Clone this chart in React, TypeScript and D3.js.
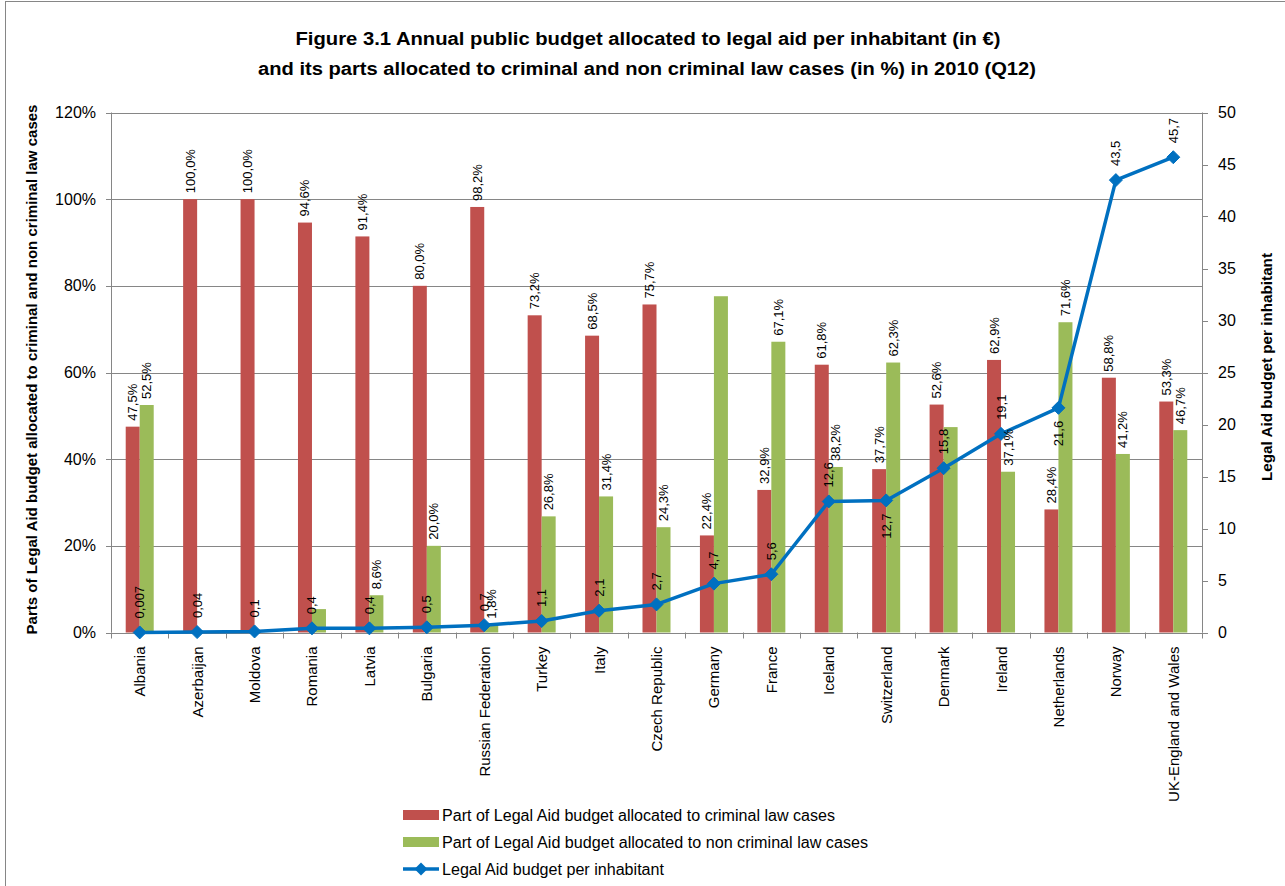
import React from "react";
import * as d3 from "d3";

const categories = [
  "Albania", "Azerbaijan", "Moldova", "Romania", "Latvia", "Bulgaria",
  "Russian Federation", "Turkey", "Italy", "Czech Republic", "Germany",
  "France", "Iceland", "Switzerland", "Denmark", "Ireland", "Netherlands",
  "Norway", "UK-England and Wales",
];

const criminal = [47.5, 100, 100, 94.6, 91.4, 80.0, 98.2, 73.2, 68.5, 75.7, 22.4, 32.9, 61.8, 37.7, 52.6, 62.9, 28.4, 58.8, 53.3];
const nonCriminal = [52.5, 0, 0, 5.4, 8.6, 20.0, 1.8, 26.8, 31.4, 24.3, 77.6, 67.1, 38.2, 62.3, 47.4, 37.1, 71.6, 41.2, 46.7];
// which non-criminal bars carry a data label in the reference
const nonCriminalLabelShown = [true, false, false, false, true, true, true, true, true, true, false, true, true, true, false, true, true, true, true];
const perInhabitant = [0.007, 0.04, 0.1, 0.4, 0.4, 0.5, 0.7, 1.1, 2.1, 2.7, 4.7, 5.6, 12.6, 12.7, 15.8, 19.1, 21.6, 43.5, 45.7];
const perInhabitantLabels = ["0,007", "0,04", "0,1", "0,4", "0,4", "0,5", "0,7", "1,1", "2,1", "2,7", "4,7", "5,6", "12,6", "12,7", "15,8", "19,1", "21,6", "43,5", "45,7"];
// label placement for line points: true = below the point
const lineLabelBelow = [false, false, false, false, false, false, false, false, false, false, false, false, false, true, false, false, true, false, false];

const leftTicks = [0, 20, 40, 60, 80, 100, 120];
const rightTicks = [0, 5, 10, 15, 20, 25, 30, 35, 40, 45, 50];

const seriesNames = [
  "Part of Legal Aid budget allocated to criminal law cases",
  "Part of Legal Aid budget allocated to non criminal law cases",
  "Legal Aid budget per inhabitant",
];

const RED = "#C0504D";
const GREEN = "#9BBB59";
const BLUE = "#0070C0";
const AXIS = "#868686";
const FONT = "'Liberation Sans', Arial, sans-serif";

const fmtPct = (v: number) => v.toFixed(1).replace(".", ",") + "%";

export default function App() {
  const W = 1285, H = 886;
  const left = 111, right = 1202, top = 112.5, bottom = 632.5;

  const x = d3.scaleBand<string>().domain(categories).range([left, right]).padding(0);
  const yL = d3.scaleLinear().domain([0, 120]).range([bottom, top]);
  const yR = d3.scaleLinear().domain([0, 50]).range([bottom, top]);
  const barW = 14;
  const cx = (i: number) => (x(categories[i]) as number) + x.bandwidth() / 2;

  const linePath = d3.line<number>()
    .x((_, i) => cx(i))
    .y((d) => yR(d))(perInhabitant) as string;

  const diamond = (px: number, py: number, r: number) =>
    `M${px},${py - r}L${px + r},${py}L${px},${py + r}L${px - r},${py}Z`;

  const bounds = x.domain().map((c) => x(c) as number).concat([right]);

  return (
    <svg width={W} height={H} style={{ position: "absolute", left: 0, top: 0, background: "#fff" }} fontFamily={FONT}>
      <rect x={5.5} y={1.5} width={1400} height={1000} fill="#fff" stroke={AXIS} strokeWidth={1} />

      {/* Title */}
      <text x={648} y={45} textAnchor="middle" fontWeight="bold" fontSize={18} textLength={705} lengthAdjust="spacingAndGlyphs" fill="#000">
        Figure 3.1 Annual  public budget allocated to legal aid per inhabitant  (in €)
      </text>
      <text x={647} y={75} textAnchor="middle" fontWeight="bold" fontSize={18} textLength={778} lengthAdjust="spacingAndGlyphs" fill="#000">
        and its parts allocated to criminal and non criminal law cases (in %) in 2010 (Q12)
      </text>

      {/* gridlines */}
      {leftTicks.map((t) => (
        <line key={"g" + t} x1={left} x2={right} y1={Math.round(yL(t)) + 0.5} y2={Math.round(yL(t)) + 0.5} stroke={AXIS} strokeWidth={1} />
      ))}

      {/* bars */}
      {criminal.map((v, i) => (
        <rect key={"r" + i} x={cx(i) - barW} y={yL(v)} width={barW} height={yL(0) - yL(v)} fill={RED} />
      ))}
      {nonCriminal.map((v, i) => v > 0 ? (
        <rect key={"n" + i} x={cx(i)} y={yL(v)} width={barW} height={yL(0) - yL(v)} fill={GREEN} />
      ) : null)}

      {/* axes */}
      <line x1={left + 0.5} x2={left + 0.5} y1={top} y2={bottom} stroke={AXIS} />
      <line x1={right + 0.5} x2={right + 0.5} y1={top} y2={bottom} stroke={AXIS} />
      <line x1={left} x2={right} y1={Math.round(bottom) + 0.5} y2={Math.round(bottom) + 0.5} stroke={AXIS} />
      {leftTicks.map((t) => (
        <g key={"lt" + t}>
          <line x1={left - 5} x2={left} y1={Math.round(yL(t)) + 0.5} y2={Math.round(yL(t)) + 0.5} stroke={AXIS} />
          <text x={96} y={yL(t)} textAnchor="end" dominantBaseline="central" fontSize={16} fill="#000">{t + "%"}</text>
        </g>
      ))}
      {rightTicks.map((t) => (
        <g key={"rt" + t}>
          <line x1={right} x2={right + 6} y1={Math.round(yR(t)) + 0.5} y2={Math.round(yR(t)) + 0.5} stroke={AXIS} />
          <text x={1218} y={yR(t)} textAnchor="start" dominantBaseline="central" fontSize={16} fill="#000">{t}</text>
        </g>
      ))}
      {bounds.map((b, i) => (
        <line key={"xt" + i} x1={Math.round(b) + 0.5} x2={Math.round(b) + 0.5} y1={bottom} y2={bottom + 6} stroke={AXIS} />
      ))}
      {categories.map((c, i) => (
        <text key={"c" + i} transform={`translate(${cx(i)},${bottom + 14}) rotate(-90)`} textAnchor="end" dominantBaseline="central" fontSize={15} fill="#000">{c}</text>
      ))}

      {/* axis titles */}
      <text transform={`translate(31,${(top + bottom) / 2 - 3}) rotate(-90)`} textAnchor="middle" dominantBaseline="central" fontWeight="bold" fontSize={15} textLength={530} lengthAdjust="spacingAndGlyphs" fill="#000">
        Parts of Legal Aid budget allocated to criminal and non criminal law cases
      </text>
      <text transform={`translate(1266,367) rotate(-90)`} textAnchor="middle" dominantBaseline="central" fontWeight="bold" fontSize={15} textLength={228} lengthAdjust="spacingAndGlyphs" fill="#000">
        Legal Aid budget per inhabitant
      </text>

      {/* line */}
      <path d={linePath} fill="none" stroke={BLUE} strokeWidth={3.5} strokeLinejoin="round" />
      {perInhabitant.map((v, i) => (
        <path key={"m" + i} d={diamond(cx(i), yR(v), 6.5)} fill={BLUE} stroke={BLUE} strokeWidth={1} />
      ))}

      {/* bar labels */}
      {criminal.map((v, i) => (
        <text key={"rl" + i} transform={`translate(${cx(i) - barW / 2},${yL(v) - 6}) rotate(-90)`} textAnchor="start" dominantBaseline="central" fontSize={13} fill="#000">{fmtPct(v)}</text>
      ))}
      {nonCriminal.map((v, i) => nonCriminalLabelShown[i] ? (
        <text key={"nl" + i} transform={`translate(${cx(i) + barW / 2},${yL(v) - 6}) rotate(-90)`} textAnchor="start" dominantBaseline="central" fontSize={13} fill="#000">{fmtPct(v)}</text>
      ) : null)}

      {/* line labels */}
      {perInhabitant.map((v, i) => lineLabelBelow[i] ? (
        <text key={"ll" + i} transform={`translate(${cx(i)},${yR(v) + 13}) rotate(-90)`} textAnchor="end" dominantBaseline="central" fontSize={13} fill="#000">{perInhabitantLabels[i]}</text>
      ) : (
        <text key={"ll" + i} transform={`translate(${cx(i)},${yR(v) - 14}) rotate(-90)`} textAnchor="start" dominantBaseline="central" fontSize={13} fill="#000">{perInhabitantLabels[i]}</text>
      ))}

      {/* legend */}
      <rect x={403} y={810} width={36} height={10} fill={RED} />
      <text x={442} y={815} dominantBaseline="central" fontSize={16} textLength={393} lengthAdjust="spacingAndGlyphs" fill="#000">{seriesNames[0]}</text>
      <rect x={403} y={837} width={36} height={10} fill={GREEN} />
      <text x={442} y={842} dominantBaseline="central" fontSize={16} textLength={426} lengthAdjust="spacingAndGlyphs" fill="#000">{seriesNames[1]}</text>
      <line x1={403} x2={439} y1={869} y2={869} stroke={BLUE} strokeWidth={3.5} />
      <path d={diamond(421, 869, 6.5)} fill={BLUE} />
      <text x={442} y={869} dominantBaseline="central" fontSize={16} textLength={222} lengthAdjust="spacingAndGlyphs" fill="#000">{seriesNames[2]}</text>
    </svg>
  );
}
